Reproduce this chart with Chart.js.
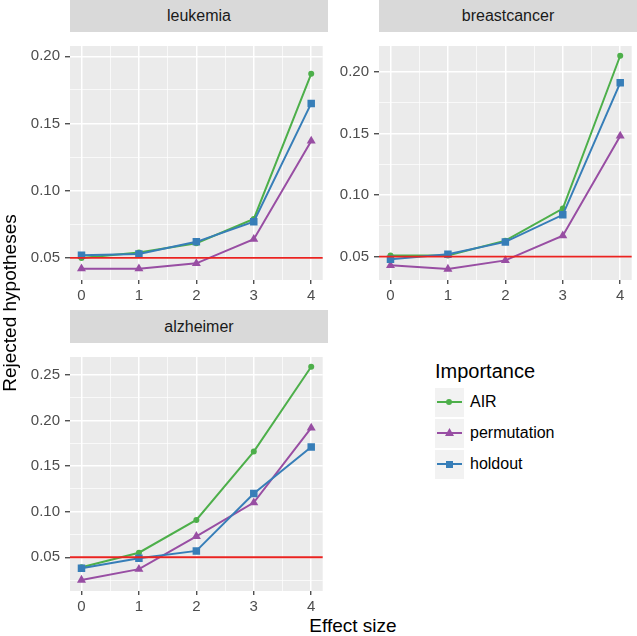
<!DOCTYPE html>
<html>
<head>
<meta charset="utf-8">
<script src="https://cdn.jsdelivr.net/npm/chart.js@4"></script>
<style>
  body { margin: 0; background: #fff; }
  #wrap { position: relative; width: 637px; height: 636px; overflow: hidden;
          font-family: "Liberation Sans", Arial, sans-serif; }
  canvas { position: absolute; }
  .strip { position: absolute; height: 32px; line-height: 32px; background: #D9D9D9;
           color: #1A1A1A; font-size: 16px; text-align: center; }
  .ytitle { position: absolute; left: -88px; top: 292px; width: 196px; text-align: center;
            font-size: 19px; color: #000; transform: rotate(-90deg); }
  .xtitle { position: absolute; left: 250px; top: 615px; width: 206px; text-align: center;
            font-size: 19px; color: #000; }
  .legend { position: absolute; left: 435px; top: 360px; }
  .legend .title { font-size: 20px; color: #000; height: 28px; }
  .legend .row { position: relative; height: 31px; }
  .legend .key { position: absolute; left: 0; top: 0; width: 29px; height: 29px; background: #F2F2F2; }
  .legend .key .ln { position: absolute; left: 2px; top: 13px; width: 25px; height: 2px; }
  .legend .key .mk { position: absolute; }
  .legend .lab { position: absolute; left: 35px; top: 5px; font-size: 16px; color: #000; white-space: nowrap; }
</style>
</head>
<body>
<div id="wrap">
  <div class="strip" style="left:70px;top:0;width:258px">leukemia</div>
  <div class="strip" style="left:379px;top:0;width:258px">breastcancer</div>
  <div class="strip" style="left:70px;top:310px;width:258px;height:33px;line-height:33px">alzheimer</div>
  <canvas id="c1" width="328" height="272" style="left:0;top:32px"></canvas>
  <canvas id="c2" width="328" height="272" style="left:309px;top:32px"></canvas>
  <canvas id="c3" width="328" height="272" style="left:0;top:343px"></canvas>
  <div class="ytitle">Rejected hypotheses</div>
  <div class="xtitle">Effect size</div>
  <div class="legend" id="legend"></div>
</div>
<script>
const effectSizes = [0, 1, 2, 3, 4];
const seriesNames = ["AIR", "permutation", "holdout"];
const seriesColors = ["#4DAF4A", "#984EA3", "#377EB8"];
const seriesShapes = ["circle", "triangle", "rect"];
const thresholdValue = 0.05;

const leukemiaAIR = [0.050, 0.054, 0.061, 0.079, 0.187];
const leukemiaPermutation = [0.042, 0.042, 0.046, 0.064, 0.137];
const leukemiaHoldout = [0.052, 0.053, 0.062, 0.077, 0.165];

const breastAIR = [0.051, 0.051, 0.063, 0.089, 0.213];
const breastPermutation = [0.043, 0.040, 0.047, 0.067, 0.148];
const breastHoldout = [0.048, 0.052, 0.062, 0.084, 0.191];

const alzAIR = [0.039, 0.055, 0.091, 0.166, 0.259];
const alzPermutation = [0.025, 0.037, 0.073, 0.110, 0.192];
const alzHoldout = [0.038, 0.049, 0.057, 0.120, 0.171];

const xLimits = [-0.2, 4.2];
const xMajor = [0, 1, 2, 3, 4];
const xMinor = [0.5, 1.5, 2.5, 3.5];

const leukemiaYLimits = [0.0336, 0.2077];
const breastYLimits = [0.0311, 0.2209];
const alzYLimits = [0.013, 0.2697];
const yMajorSmall = [0.05, 0.10, 0.15, 0.20];
const yMinorSmall = [0.075, 0.125, 0.175];
const yMajorLarge = [0.05, 0.10, 0.15, 0.20, 0.25];
const yMinorLarge = [0.025, 0.075, 0.125, 0.175, 0.225];

const tickFont = { family: "Liberation Sans, Arial, sans-serif", size: 15 };

// grey panel background
const panelBg = {
  id: "panelBg",
  beforeDraw(chart) {
    const { ctx, chartArea: a } = chart;
    ctx.save();
    ctx.fillStyle = "#EBEBEB";
    ctx.fillRect(a.left, a.top, a.right - a.left, a.bottom - a.top);
    ctx.restore();
  }
};

// red reference line at 0.05
const refLine = {
  id: "refLine",
  afterDatasetsDraw(chart) {
    const { ctx, chartArea: a, scales } = chart;
    const y = scales.y.getPixelForValue(thresholdValue);
    ctx.save();
    ctx.strokeStyle = "#EA2320";
    ctx.lineWidth = 1.8;
    ctx.beginPath();
    ctx.moveTo(a.left, y);
    ctx.lineTo(a.right, y);
    ctx.stroke();
    ctx.restore();
  }
};

function axisOpts(limits, major, minor, fmt, isX) {
  const isMajor = (v) => major.includes(v);
  return {
    type: "linear",
    min: limits[0],
    max: limits[1],
    afterBuildTicks: (s) => {
      s.ticks = [...major, ...minor].sort((a, b) => a - b).map(v => ({ value: v }));
    },
    afterFit: (s) => {
      if (isX) s.height = 24; else s.width = 70;
    },
    border: { display: false },
    grid: {
      color: "#FFFFFF",
      lineWidth: (c) => (c.tick && isMajor(c.tick.value) ? 1.5 : 0.7),
      tickColor: (c) => (c.tick && isMajor(c.tick.value) ? "#333333" : "rgba(0,0,0,0)"),
      tickWidth: 1.2,
      tickLength: isX ? 4 : 5,
      drawTicks: true
    },
    ticks: {
      autoSkip: false,
      maxRotation: 0,
      minRotation: 0,
      padding: isX ? 3 : 5,
      color: "#4D4D4D",
      font: tickFont,
      callback: (v) => (isMajor(v) ? fmt(v) : "")
    }
  };
}

function makePanel(id, yLimits, yMajor, yMinor, air, perm, hold) {
  const values = [air, perm, hold];
  const order = [3, 2, 1];
  const datasets = values.map((vals, i) => ({
    label: seriesNames[i],
    data: effectSizes.map((x, j) => ({ x, y: vals[j] })),
    borderColor: seriesColors[i],
    backgroundColor: seriesColors[i],
    borderWidth: 2,
    pointStyle: seriesShapes[i],
    pointRadius: seriesShapes[i] === "circle" ? 3 : (seriesShapes[i] === "rect" ? 5.3 : 5.2),
    pointBorderWidth: 0,
    tension: 0,
    order: order[i]
  }));
  return new Chart(document.getElementById(id), {
    type: "line",
    data: { datasets },
    options: {
      responsive: false,
      animation: false,
      layout: { padding: 0 },
      plugins: { legend: { display: false }, tooltip: { enabled: false } },
      scales: {
        x: axisOpts(xLimits, xMajor, xMinor, (v) => String(v), true),
        y: axisOpts(yLimits, yMajor, yMinor, (v) => v.toFixed(2), false)
      }
    },
    plugins: [panelBg, refLine]
  });
}

makePanel("c1", leukemiaYLimits, yMajorSmall, yMinorSmall, leukemiaAIR, leukemiaPermutation, leukemiaHoldout);
makePanel("c2", breastYLimits, yMajorSmall, yMinorSmall, breastAIR, breastPermutation, breastHoldout);
makePanel("c3", alzYLimits, yMajorLarge, yMinorLarge, alzAIR, alzPermutation, alzHoldout);

// legend
const legend = document.getElementById("legend");
let html = '<div class="title">Importance</div>';
seriesNames.forEach((name, i) => {
  const c = seriesColors[i];
  let mk;
  if (seriesShapes[i] === "circle") {
    mk = `<div class="mk" style="left:11px;top:11px;width:6px;height:6px;border-radius:3px;background:${c}"></div>`;
  } else if (seriesShapes[i] === "triangle") {
    mk = `<div class="mk" style="left:10px;top:9px;width:9px;height:8px;background:${c};clip-path:polygon(50% 0,100% 100%,0 100%)"></div>`;
  } else {
    mk = `<div class="mk" style="left:11px;top:11px;width:7px;height:7px;background:${c}"></div>`;
  }
  html += `<div class="row"><div class="key"><div class="ln" style="background:${c}"></div>${mk}</div>` +
          `<div class="lab">${name}</div></div>`;
});
legend.innerHTML = html;
</script>
</body>
</html>
